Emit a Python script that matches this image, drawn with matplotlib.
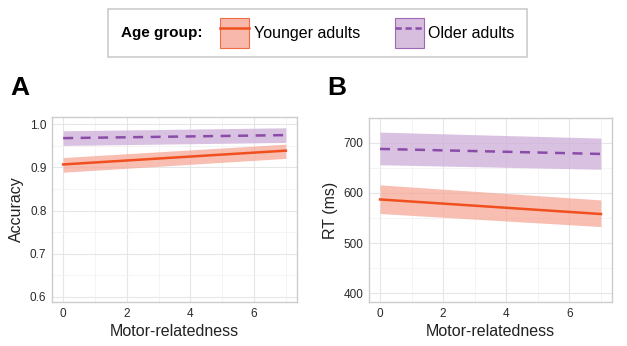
import matplotlib
matplotlib.use("Agg")
import matplotlib.pyplot as plt
import numpy as np
from matplotlib.patches import Patch, Rectangle
from matplotlib.lines import Line2D

plt.rcParams['font.family'] = ['Liberation Sans', 'DejaVu Sans']

x_vals = [0, 7]
groups = ["Younger adults", "Older adults"]

acc_young = [0.907, 0.939]
acc_young_lo = [0.889, 0.921]
acc_young_hi = [0.923, 0.954]
acc_old = [0.968, 0.975]
acc_old_lo = [0.951, 0.958]
acc_old_hi = [0.985, 0.992]

rt_young = [587, 558]
rt_young_lo = [559, 533]
rt_young_hi = [616, 586]
rt_old = [687.5, 677.5]
rt_old_lo = [656, 647]
rt_old_hi = [721, 709]

xticks = [0, 2, 4, 6]
acc_ticks = [0.6, 0.7, 0.8, 0.9, 1.0]
rt_ticks = [400, 500, 600, 700]

c_young = "#F0501E"
f_young = "#F7A898"
c_old = "#8B4BA8"
f_old = "#CDAED8"

W, H = 627, 346
fig = plt.figure(figsize=(W / 100, H / 100), dpi=100)

def px(l, t, r, b):
    return [l / W, (H - b) / H, (r - l) / W, (b - t) / H]

def style(ax, yticks, ylim, ylabel, fmt):
    ax.set_xlim(-0.35, 7.35)
    ax.set_ylim(*ylim)
    ax.set_xticks(xticks)
    ax.set_xticks([1, 3, 5, 7], minor=True)
    ax.set_yticks(yticks)
    ax.set_yticklabels([fmt(v) for v in yticks])
    ym = [(yticks[i] + yticks[i + 1]) / 2 for i in range(len(yticks) - 1)]
    ax.set_yticks(ym, minor=True)
    ax.grid(True, which='major', color='#e6e6e6', lw=0.8)
    ax.grid(True, which='minor', color='#f0f0f0', lw=0.5)
    ax.set_axisbelow(True)
    for s in ax.spines.values():
        s.set_color('#cccccc')
        s.set_linewidth(1.0)
    ax.tick_params(which='both', length=0, labelsize=8.5, colors='#2a2a2a', pad=4)
    ax.tick_params(which='minor', labelleft=False, labelbottom=False)
    ax.set_xlabel("Motor-relatedness", fontsize=11.5, color='#222222', labelpad=3)
    ax.set_ylabel(ylabel, fontsize=11.5, color='#222222', labelpad=4)

axA = fig.add_axes(px(52, 117, 297, 302))
axA.fill_between(x_vals, acc_young_lo, acc_young_hi, color=f_young, alpha=0.75, lw=0)
axA.fill_between(x_vals, acc_old_lo, acc_old_hi, color=f_old, alpha=0.75, lw=0)
axA.plot(x_vals, acc_young, color=c_young, lw=1.8)
axA.plot(x_vals, acc_old, color=c_old, lw=1.8, ls=(0, (4, 3)))
style(axA, acc_ticks, (0.588, 1.017), "Accuracy", lambda v: f"{v:.1f}")

axB = fig.add_axes(px(369, 118, 612, 302))
axB.fill_between(x_vals, rt_young_lo, rt_young_hi, color=f_young, alpha=0.75, lw=0)
axB.fill_between(x_vals, rt_old_lo, rt_old_hi, color=f_old, alpha=0.75, lw=0)
axB.plot(x_vals, rt_young, color=c_young, lw=1.8)
axB.plot(x_vals, rt_old, color=c_old, lw=1.8, ls=(0, (4, 3)))
style(axB, rt_ticks, (383, 749), "RT (ms)", lambda v: f"{int(v)}")

fig.text(10 / W, 1 - 88 / H, "A", fontsize=19, fontweight='bold', va='center', ha='left')
fig.text(327 / W, 1 - 88 / H, "B", fontsize=19, fontweight='bold', va='center', ha='left')

# legend box
fig.patches.append(Rectangle((108 / W, 1 - 57 / H), (527 - 108) / W, (57 - 9) / H,
                             transform=fig.transFigure, fill=False,
                             edgecolor='#cccccc', lw=1.2))
fig.text(121 / W, 1 - 33 / H, "Age group:", fontsize=11, fontweight='bold',
         va='center', ha='left')
h1 = (Patch(facecolor=f_young, edgecolor=c_young, lw=0.8, alpha=0.8),
      Line2D([], [], color=c_young, lw=1.8))
h2 = (Patch(facecolor=f_old, edgecolor=c_old, lw=0.8, alpha=0.8),
      Line2D([], [], color=c_old, lw=1.8, ls=(0, (2.5, 1.5))))
fig.legend([h1, h2], groups, loc='center left', bbox_to_anchor=(220 / W, 1 - 33 / H),
           ncol=2, frameon=False, fontsize=11.5, handlelength=1.8, handleheight=2.6,
           columnspacing=2.2, handletextpad=0.3, borderaxespad=0, borderpad=0)

fig.savefig("out.png", dpi=100)
